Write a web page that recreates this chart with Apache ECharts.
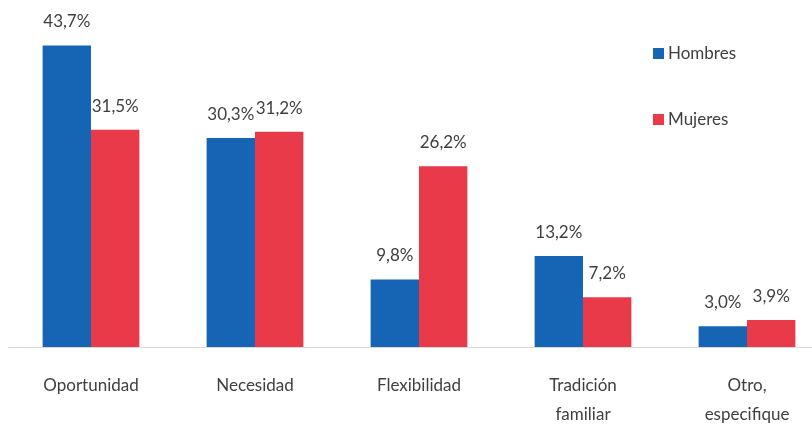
<!DOCTYPE html>
<html><head><meta charset="utf-8">
<script src="https://cdn.jsdelivr.net/npm/echarts@6/dist/echarts.min.js"></script>
<style>html,body{margin:0;padding:0;background:#fff;overflow:hidden}#c{width:830px;height:429px}</style>
</head><body><div id="c"></div>
<script>
const categories = ["Oportunidad", "Necesidad", "Flexibilidad", "Tradición\nfamiliar", "Otro,\nespecifique"];
const hombres = [43.7, 30.3, 9.8, 13.2, 3.0];
const mujeres = [31.5, 31.2, 26.2, 7.2, 3.9];
const seriesNames = ["Hombres", "Mujeres"];

const font = 'Lato, "Liberation Sans", sans-serif';
const fmt = p => p.value.toFixed(1).replace('.', ',') + '%';
const chart = echarts.init(document.getElementById('c'));
chart.setOption({
  animation: false,
  grid: { left: 9, right: 1, top: 2, bottom: 78 },
  legend: {
    orient: 'vertical', left: 648, top: 40, itemWidth: 11, itemHeight: 11, itemGap: 49,
    icon: 'rect',
    textStyle: { fontFamily: font, fontSize: 17, color: '#404040', padding: [0,0,0,-1] },
    data: seriesNames
  },
  xAxis: {
    type: 'category', data: categories,
    axisLine: { lineStyle: { color: '#d9d9d9', width: 1 } },
    axisTick: { show: false },
    axisLabel: { fontFamily: font, fontSize: 17, color: '#404040', margin: 24, lineHeight: 29, interval: 0 }
  },
  yAxis: { type: 'value', min: 0, max: 50, show: false, splitLine: { show: false } },
  series: [
    { name: seriesNames[0], type: 'bar', data: hombres, barGap: '0%', barCategoryGap: '41%',
      itemStyle: { color: '#1565b4' },
      label: { show: true, position: 'top', distance: 15, formatter: fmt, fontFamily: font, fontSize: 17, color: '#404040' } },
    { name: seriesNames[1], type: 'bar', data: mujeres,
      itemStyle: { color: '#e83a48' },
      label: { show: true, position: 'top', distance: 15, formatter: fmt, fontFamily: font, fontSize: 17, color: '#404040' } }
  ]
});
</script></body></html>
